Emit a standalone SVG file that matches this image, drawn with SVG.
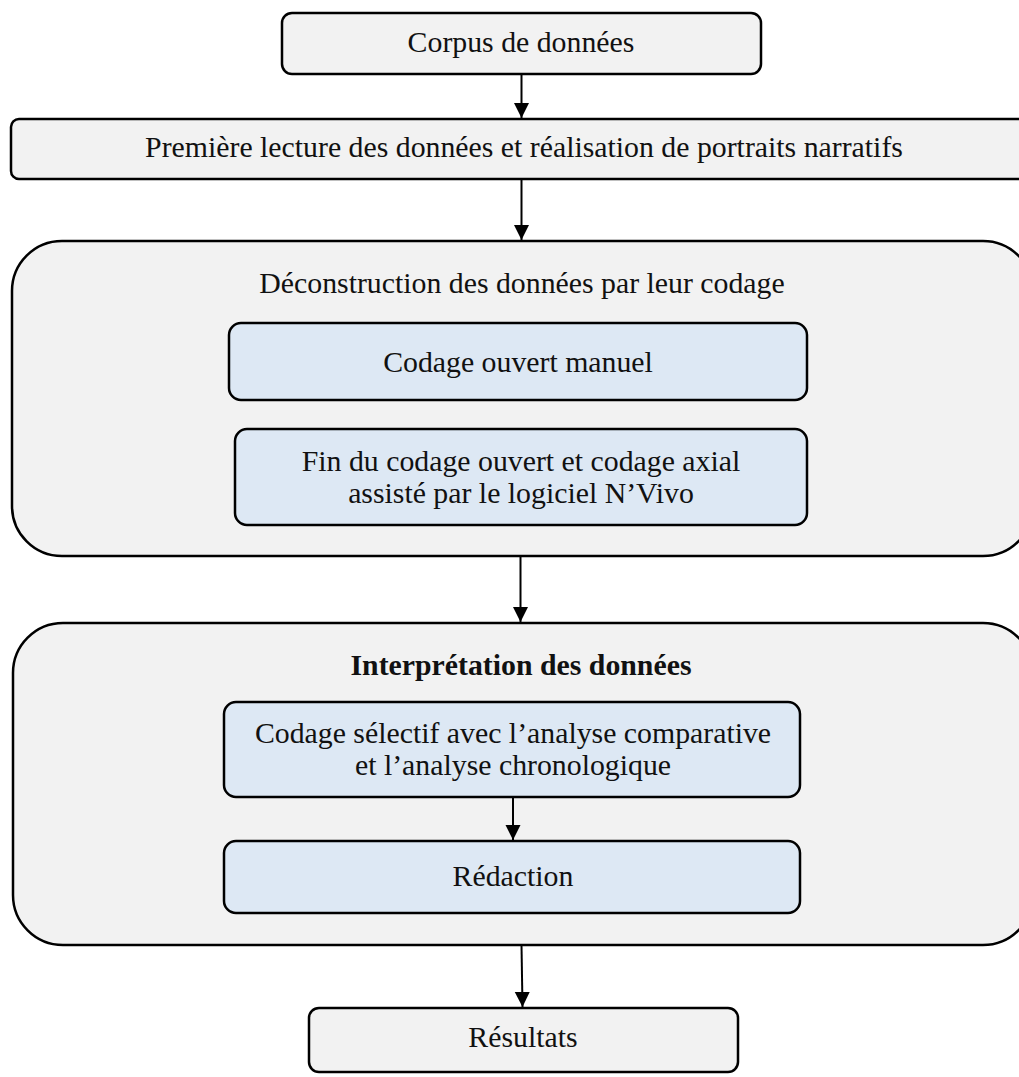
<svg xmlns="http://www.w3.org/2000/svg" width="1019" height="1077" viewBox="0 0 1019 1077">
  <style>
    .box { fill: #f2f2f2; stroke: #000; stroke-width: 2.5; }
    .inner { fill: #dde8f4; stroke: #000; stroke-width: 2.5; }
    .t { font-family: "Liberation Serif", "Times New Roman", serif; font-size: 29.8px; fill: #111; text-anchor: middle; }
    .b { font-weight: bold; }
    .conn { stroke: #000; stroke-width: 2; fill: none; marker-end: url(#arr); }
  </style>
  <defs>
    <marker id="arr" markerUnits="userSpaceOnUse" markerWidth="16" markerHeight="16" refX="15" refY="7.5" orient="auto">
      <path d="M0,0 L15,7.5 L0,15 Z" fill="#000"/>
    </marker>
  </defs>
  <rect width="1019" height="1077" fill="#fff"/>

  <g id="n-groupe-deconstruction">
    <rect class="box" x="12" y="241" width="1021" height="315" rx="50" ry="50"/>
    <text class="t" x="522" y="293">Déconstruction des données par leur codage</text>
  </g>
  <g id="n-groupe-interpretation">
    <rect class="box" x="13" y="623" width="1020" height="322" rx="50" ry="50"/>
    <text class="t b" x="521" y="675">Interprétation des données</text>
  </g>

  <g id="n-corpus">
    <rect class="box" x="282" y="13" width="479" height="61" rx="10" ry="10"/>
    <text class="t" x="521" y="52">Corpus de données</text>
  </g>
  <g id="n-premiere-lecture">
    <rect class="box" x="11" y="119" width="1030" height="60" rx="8" ry="8"/>
    <text class="t" x="524" y="157">Première lecture des données et réalisation de portraits narratifs</text>
  </g>
  <g id="n-codage-ouvert">
    <rect class="inner" x="229" y="323" width="578" height="77" rx="12" ry="12"/>
    <text class="t" x="518" y="372">Codage ouvert manuel</text>
  </g>
  <g id="n-codage-axial">
    <rect class="inner" x="235" y="429" width="572" height="96" rx="12" ry="12"/>
    <text class="t" x="521" y="471">Fin du codage ouvert et codage axial</text>
    <text class="t" x="521" y="503">assisté par le logiciel N’Vivo</text>
  </g>
  <g id="n-codage-selectif">
    <rect class="inner" x="224" y="702" width="576" height="95" rx="12" ry="12"/>
    <text class="t" x="513" y="743">Codage sélectif avec l’analyse comparative</text>
    <text class="t" x="513" y="775">et l’analyse chronologique</text>
  </g>
  <g id="n-redaction">
    <rect class="inner" x="224" y="841" width="576" height="72" rx="12" ry="12"/>
    <text class="t" x="513" y="886">Rédaction</text>
  </g>
  <g id="n-resultats">
    <rect class="box" x="309" y="1008" width="429" height="64" rx="10" ry="10"/>
    <text class="t" x="523" y="1047">Résultats</text>
  </g>

  <g id="connectors">
    <line class="conn" x1="521.5" y1="74" x2="521.5" y2="118"/>
    <line class="conn" x1="521.5" y1="179" x2="521.5" y2="240"/>
    <line class="conn" x1="520.5" y1="556" x2="520.5" y2="622"/>
    <line class="conn" x1="513" y1="797" x2="513" y2="840"/>
    <line class="conn" x1="521.5" y1="945" x2="522.5" y2="1007"/>
  </g>
</svg>
